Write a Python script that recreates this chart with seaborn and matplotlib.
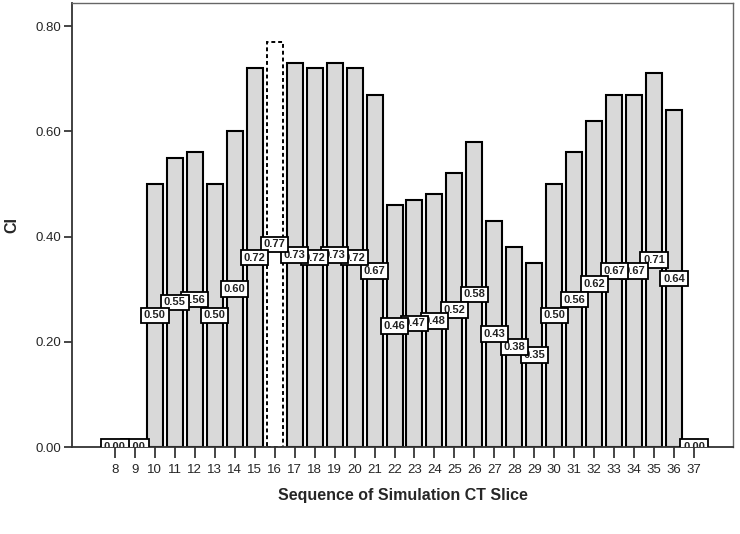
import pandas as pd
import matplotlib
matplotlib.use("Agg")
import matplotlib.pyplot as plt
import seaborn as sns

slices = list(range(8, 38))
ci = [0.00, 0.00, 0.50, 0.55, 0.56, 0.50, 0.60, 0.72, 0.77, 0.73,
      0.72, 0.73, 0.72, 0.67, 0.46, 0.47, 0.48, 0.52, 0.58, 0.43,
      0.38, 0.35, 0.50, 0.56, 0.62, 0.67, 0.67, 0.71, 0.64, 0.00]
highlight = 16

sns.set_style("white")
plt.rcParams['font.family'] = ['Liberation Sans', 'DejaVu Sans']

df = pd.DataFrame({"Slice": [str(s) for s in slices], "CI": ci})

fig = plt.figure(figsize=(7.4, 5.34), dpi=100)
ax = fig.add_axes([72 / 740, 1 - 447 / 534, (733 - 72) / 740, (447 - 3) / 534])

sns.barplot(data=df, x="Slice", y="CI", color="#d9d9d9", saturation=1,
            width=0.8, edgecolor="black", linewidth=1.5, ax=ax)

for i, (s, p) in enumerate(zip(slices, ax.patches)):
    if s == highlight:
        p.set_facecolor("white")
        p.set_linestyle((0, (2, 1.5)))
        p.set_linewidth(1.4)

n = len(slices)
for i, v in enumerate(ci):
    ax.text(i, v / 2, f"{v:.2f}", ha="center", va="center", fontsize=8,
            fontweight="bold", color="#222222", clip_on=True,
            zorder=10 + (n - i) * 0.01,
            bbox=dict(boxstyle="square,pad=0.25", fc="white", ec="black", lw=1.3))

ax.set_xlim(-2.15, n - 1 + 1.95)
ax.set_ylim(0, 0.844)
ax.set_yticks([0, 0.2, 0.4, 0.6, 0.8])
ax.set_yticklabels([f"{t:.2f}" for t in [0, 0.2, 0.4, 0.6, 0.8]])
ax.tick_params(axis="y", length=6, width=1.2, direction="out", labelsize=9.5, pad=2, left=True)
ax.tick_params(axis="x", length=8, width=1.2, direction="out", labelsize=9.5, pad=4, bottom=True)
for side in ["left", "bottom"]:
    ax.spines[side].set_color("#333333")
    ax.spines[side].set_linewidth(1.3)
for side in ["top", "right"]:
    ax.spines[side].set_color("#666666")
    ax.spines[side].set_linewidth(1.0)

ax.set_xlabel("Sequence of Simulation CT Slice", fontsize=11.5, fontweight="bold", labelpad=9)
ax.set_ylabel("CI", fontsize=11.5, fontweight="bold", labelpad=11)

fig.savefig("out.png", dpi=100)
